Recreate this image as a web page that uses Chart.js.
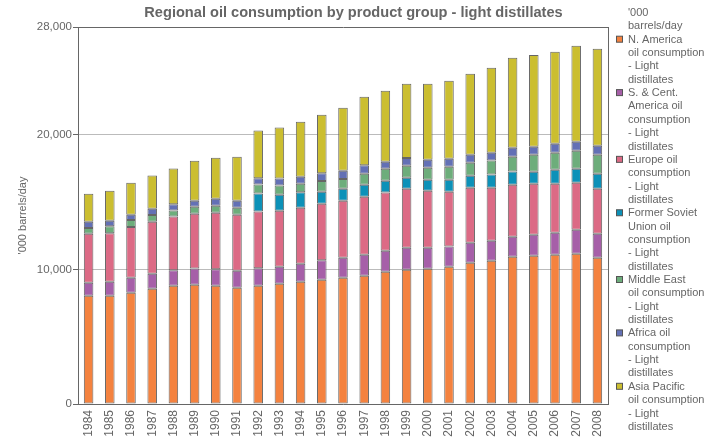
<!DOCTYPE html>
<html>
<head>
<meta charset="utf-8">
<script src="https://cdn.jsdelivr.net/npm/chart.js@4"></script>
<style>
    html, body { margin: 0; padding: 0; background: #fff; }
    #wrap { width: 707px; height: 440px; }
</style>
</head>
<body>
<div id="wrap"><canvas id="chart" width="707" height="440"></canvas></div>
<script>
const years = ['1984', '1985', '1986', '1987', '1988', '1989', '1990', '1991', '1992', '1993', '1994', '1995', '1996',
    '1997', '1998', '1999', '2000', '2001', '2002', '2003', '2004', '2005', '2006', '2007', '2008'];

const northAmerica = [8040, 8040, 8270, 8560, 8790, 8860, 8790, 8640, 8790, 8940, 9080, 9230, 9380,
    9530, 9830, 9970, 10050, 10200, 10490, 10640, 10940, 11010, 11090, 11160, 10870];
const southCentAmerica = [970, 1040, 1110, 1110, 1140, 1210, 1210, 1260, 1290, 1260, 1340, 1440, 1490,
    1560, 1560, 1630, 1560, 1490, 1490, 1490, 1490, 1560, 1630, 1780, 1780];
const europe = [3640, 3610, 3760, 3860, 3990, 4060, 4210, 4160, 4210, 4160, 4160, 4210, 4230,
    4310, 4310, 4380, 4230, 4080, 4080, 3940, 3860, 3790, 3640, 3490, 3340];
const formerSoviet = [0, 0, 0, 0, 0, 0, 0, 0, 1340, 1190, 1140, 890, 890,
    890, 890, 820, 820, 890, 890, 970, 970, 890, 1040, 1040, 1110];
const middleEast = [420, 520, 520, 500, 450, 520, 520, 520, 670, 670, 640, 790, 720,
    820, 890, 890, 890, 970, 970, 1040, 1110, 1260, 1260, 1340, 1410];
const africa = [470, 400, 400, 470, 470, 450, 520, 520, 470, 520, 520, 570, 620,
    620, 520, 590, 590, 590, 590, 590, 670, 590, 670, 670, 670];
const asiaPacific = [2080, 2230, 2380, 2480, 2650, 2970, 3040, 3270, 3540, 3790, 4080, 4360, 4680,
    5100, 5270, 5500, 5640, 5790, 6010, 6310, 6680, 6830, 6830, 7130, 7200];

const yTicks = [0, 10000, 20000, 28000];
const unitLabel = "'000 barrels/day";

const seriesNames = [
    ['N. America', 'oil consumption', '- Light', 'distillates'],
    ['S. & Cent.', 'America oil', 'consumption', '- Light', 'distillates'],
    ['Europe oil', 'consumption', '- Light', 'distillates'],
    ['Former Soviet', 'Union oil', 'consumption', '- Light', 'distillates'],
    ['Middle East', 'oil consumption', '- Light', 'distillates'],
    ['Africa oil', 'consumption', '- Light', 'distillates'],
    ['Asia Pacific', 'oil consumption', '- Light', 'distillates']
];
const seriesValues = [northAmerica, southCentAmerica, europe, formerSoviet, middleEast, africa, asiaPacific];
const seriesColors = ['#f4823f', '#a65fa8', '#dc6a85', '#0c91b8', '#6dad7b', '#6370b5', '#cbbe30'];

const textColor = '#666';
const fontFamily = 'Arial, "Liberation Sans", sans-serif';

// legend drawn by hand so the names can wrap like the original
const sideLegend = {
    id: 'sideLegend',
    afterDraw(chart) {
        const ctx = chart.ctx;
        const x = 628;
        const lineH = 13.35;
        let y = 13;
        ctx.save();
        ctx.font = '11px ' + fontFamily;
        ctx.textBaseline = 'middle';
        ctx.fillStyle = textColor;
        ["'000", 'barrels/day'].forEach(line => {
            ctx.fillText(line, x, y);
            y += lineH;
        });
        chart.data.datasets.forEach((ds, i) => {
            ctx.fillStyle = ds.backgroundColor;
            ctx.fillRect(616.5, y - 3.5, 6, 6);
            ctx.strokeStyle = '#555';
            ctx.lineWidth = 1;
            ctx.strokeRect(616.5, y - 3.5, 6, 6);
            ctx.fillStyle = textColor;
            seriesNames[i].forEach(line => {
                ctx.fillText(line, x, y);
                y += lineH;
            });
        });
        ctx.restore();
    }
};

const ctx = document.getElementById('chart').getContext('2d');
new Chart(ctx, {
    type: 'bar',
    data: {
        labels: years,
        datasets: seriesValues.map((vals, i) => ({
            label: seriesNames[i].join(' '),
            data: vals,
            backgroundColor: seriesColors[i],
            borderColor: '#666',
            borderWidth: 1,
            borderSkipped: false,
            categoryPercentage: 1,
            barPercentage: 0.45,
            yAxisID: 'y'
        }))
    },
    options: {
        responsive: false,
        animation: false,
        layout: { padding: 0 },
        plugins: {
            legend: { display: false },
            tooltip: { enabled: false },
            title: {
                display: true,
                text: 'Regional oil consumption by product group - light distillates',
                color: textColor,
                font: { family: fontFamily, size: 14.6, weight: 'bold' },
                padding: { top: 4, bottom: 5.5 }
            }
        },
        scales: {
            x: {
                stacked: true,
                grid: { display: false, drawTicks: false },
                border: { display: true, color: '#666' },
                ticks: {
                    color: textColor,
                    font: { family: fontFamily, size: 12 },
                    minRotation: 90,
                    maxRotation: 90,
                    padding: 6,
                    autoSkip: false
                },
                afterFit: scale => { scale.height = 36; }
            },
            y: {
                stacked: true,
                min: 0,
                max: 28000,
                afterBuildTicks: scale => {
                    scale.ticks = yTicks.map(v => ({ value: v }));
                },
                grid: {
                    color: c => (c.tick && c.tick.value === 28000) ? '#666' : '#bbb',
                    tickColor: '#666',
                    tickLength: 5
                },
                border: { display: true, color: '#666' },
                ticks: {
                    color: textColor,
                    font: { family: fontFamily, size: 11.5 },
                    padding: 1,
                    callback: v => v.toLocaleString('en-US')
                },
                title: {
                    display: true,
                    text: unitLabel,
                    color: textColor,
                    font: { family: fontFamily, size: 11 },
                    padding: { top: 16, bottom: 0 }
                },
                afterFit: scale => { scale.width = 78; }
            },
            yR: {
                position: 'right',
                display: true,
                grid: { display: false, drawTicks: false },
                border: { display: true, color: '#666' },
                ticks: { display: false },
                afterFit: scale => { scale.width = 99; }
            }
        }
    },
    plugins: [sideLegend]
});
</script>
</body>
</html>
